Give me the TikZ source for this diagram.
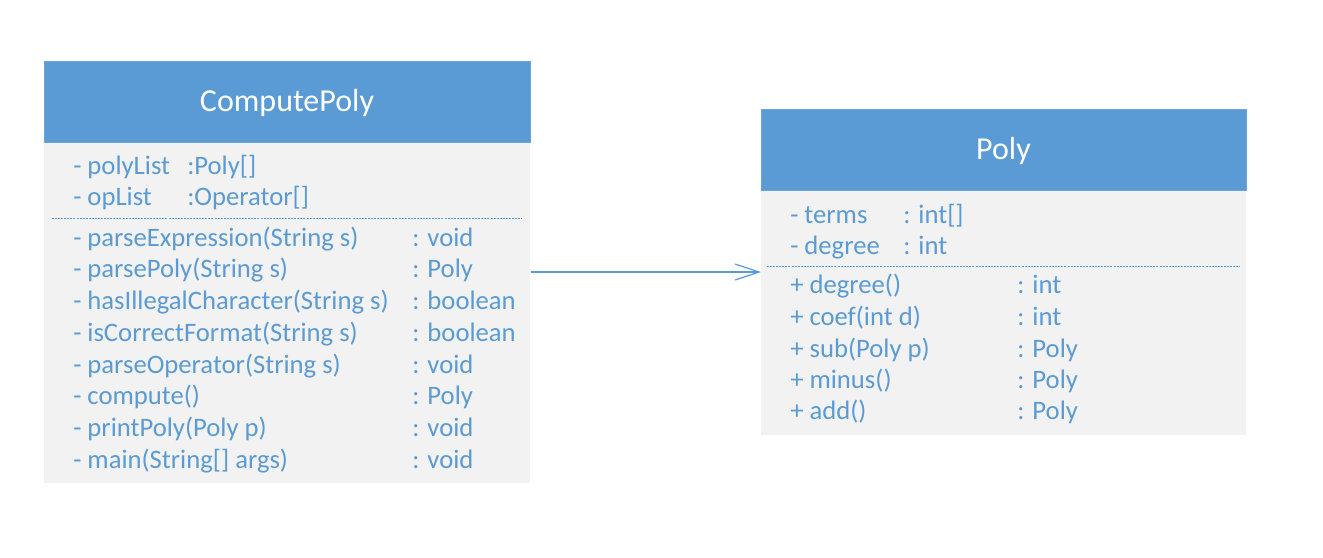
\documentclass[tikz,border=0pt]{standalone}
\usepackage{fontspec}
\setmainfont{Carlito}
\usetikzlibrary{arrows.meta}
\definecolor{hdr}{HTML}{5B9BD5}
\definecolor{bdy}{HTML}{F2F2F2}
\begin{document}
\begin{tikzpicture}[x=0.75pt,y=-0.75pt,
  header/.style={rectangle,fill=hdr,draw=hdr!90!white,line width=0.5pt,anchor=north west,inner sep=0},
  body/.style={rectangle,fill=bdy,anchor=north west,inner sep=0},
  title/.style={text=white,font=\fontsize{24}{28}\selectfont,anchor=base,inner sep=0},
  member/.style={text=hdr,font=\fontsize{20}{24}\selectfont,anchor=base west,inner sep=0},
  sep/.style={draw=hdr,line width=0.6pt,dash pattern=on 1.5pt off 0.8pt},
  assoc/.style={draw=hdr,line width=0.9pt,-{Straight Barb[length=18pt,width=12pt,line width=0.9pt]}}]
\useasboundingbox (0,0) rectangle (1323,557);
% ComputePoly
\node[body,minimum width=364.5pt,minimum height=255.75pt] (cpbody) at (44,142) {};
\node[header,minimum width=364.5pt,minimum height=60.75pt] (cphead) at (44,61) {};
\node[title] (cptitle) at (287,111) {ComputePoly};
\draw[sep] (52,218) -- (522,218);
\node[member] (a1) at (73,174) {- polyList};
\node[member] (a1t) at (187,174) {:Poly[]};
\node[member] (a2) at (73,205) {- opList};
\node[member] (a2t) at (187,205) {:Operator[]};
\node[member] (m1) at (73,246) {- parseExpression(String s)};
\node[member] (m1t) at (412,246) {: void};
\node[member] (m2) at (73,277) {- parsePoly(String s)};
\node[member] (m2t) at (412,277) {: Poly};
\node[member] (m3) at (73,309) {- hasIllegalCharacter(String s)};
\node[member] (m3t) at (412,309) {: boolean};
\node[member] (m4) at (73,341) {- isCorrectFormat(String s)};
\node[member] (m4t) at (412,341) {: boolean};
\node[member] (m5) at (73,373) {- parseOperator(String s)};
\node[member] (m5t) at (412,373) {: void};
\node[member] (m6) at (73,404) {- compute()};
\node[member] (m6t) at (412,404) {: Poly};
\node[member] (m7) at (73,436) {- printPoly(Poly p)};
\node[member] (m7t) at (412,436) {: void};
\node[member] (m8) at (73,468) {- main(String[] args)};
\node[member] (m8t) at (412,468) {: void};
% Poly
\node[body,minimum width=363.75pt,minimum height=183.75pt] (pbody) at (761,190) {};
\node[header,minimum width=363.75pt,minimum height=60.75pt] (phead) at (761,109) {};
\node[title] (ptitle) at (1003.5,159) {Poly};
\draw[sep] (767,266) -- (1240,266);
\node[member] (b1) at (790,223) {- terms};
\node[member] (b1t) at (903,223) {: int[]};
\node[member] (b2) at (790,254) {- degree};
\node[member] (b2t) at (903,254) {: int};
\node[member] (n1) at (790,293) {+ degree()};
\node[member] (n1t) at (1017,293) {: int};
\node[member] (n2) at (790,325) {+ coef(int d)};
\node[member] (n2t) at (1017,325) {: int};
\node[member] (n3) at (790,357) {+ sub(Poly p)};
\node[member] (n3t) at (1017,357) {: Poly};
\node[member] (n4) at (790,388) {+ minus()};
\node[member] (n4t) at (1017,388) {: Poly};
\node[member] (n5) at (790,419) {+ add()};
\node[member] (n5t) at (1017,419) {: Poly};
% association
\coordinate (ay) at (0,272);
\draw[assoc] (cpbody.east |- ay) -- (pbody.west |- ay);
\end{tikzpicture}
\end{document}
